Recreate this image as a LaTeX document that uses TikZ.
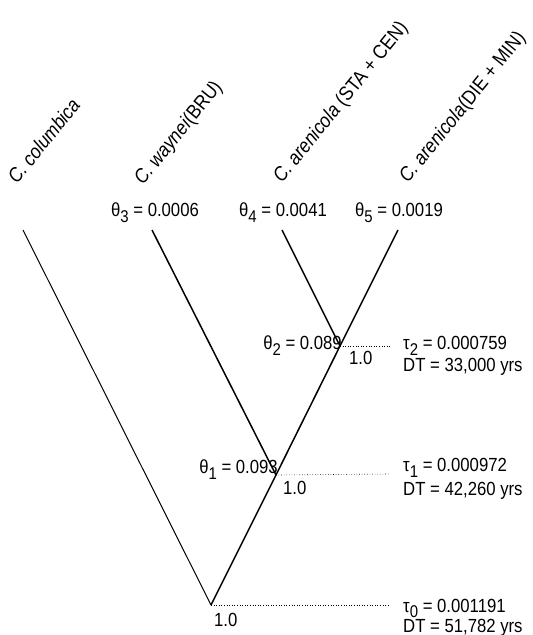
\documentclass[tikz,border=0pt]{standalone}
\usepackage{fontspec}
\setmainfont{Liberation Sans}[FakeStretch=0.88]
\newcommand\lsub[1]{\raisebox{-0.3em}{\fontsize{17}{18}\selectfont #1}}
\begin{document}
\begin{tikzpicture}[x=1pt,y=-1pt,
  txt/.style={inner sep=0pt,font=\fontsize{19}{22}\selectfont},
  leaflab/.style={inner sep=0pt,font=\fontsize{20}{22}\selectfont,rotate=51,anchor=base west},
  branch/.style={line width=1.5pt},
  thinbranch/.style={line width=1pt},
  guide/.style={line width=0.6pt,dotted}]
\useasboundingbox (0,0) rectangle (533,635);
% tips and internal nodes
\coordinate (tc) at (23,230);
\coordinate (tw) at (152,230);
\coordinate (ta) at (282,230);
\coordinate (tb) at (398,230);
\coordinate (n2) at (340,346);
\coordinate (n1) at (276,475);
\coordinate (r)  at (211,605);
\coordinate (d2) at (390,346);
\coordinate (d1) at (390,474);
\coordinate (d0) at (390,605);
% branches
\draw[thinbranch] (tc) -- (r);
\draw[branch] (tw) -- (n1);
\draw[branch] (ta) -- (n2);
\draw[branch] (tb) -- (n2) -- (n1) -- (r);
% dotted guides
\draw[guide] (n2) -- (d2);
\draw[guide] (n1) -- (d1);
\draw[guide] (r) -- (d0);
% leaf labels
\node[leaflab] (lc) at (17,185) {\textit{C. columbica}};
\node[leaflab] (lw) at (143,186) {\textit{C. waynei}(BRU)};
\node[leaflab] (la) at (282,184) {\textit{C. arenicola} (STA + CEN)};
\node[leaflab] (lb) at (408,184) {\textit{C. arenicola}(DIE + MIN)};
% theta at tips
\node[txt,anchor=base] (t3) at (155,216.5) {θ\lsub{3} = 0.0006};
\node[txt,anchor=base] (t4) at (283,216.5) {θ\lsub{4} = 0.0041};
\node[txt,anchor=base] (t5) at (399,216.5) {θ\lsub{5} = 0.0019};
% theta at internal nodes
\node[txt,anchor=base east] (t2) at (342,349.5) {θ\lsub{2} = 0.089};
\node[txt,anchor=base east] (t1) at (278,473.5) {θ\lsub{1} = 0.093};
% support values
\node[txt,anchor=base west] (s2) at (349,364) {1.0};
\node[txt,anchor=base west] (s1) at (283,494.5) {1.0};
\node[txt,anchor=base west] (s0) at (214,626.5) {1.0};
% tau / DT
\node[txt,anchor=base west] (u2) at (403,349.5) {τ\lsub{2} = 0.000759};
\node[txt,anchor=base west] (v2) at (403,371.5) {DT = 33,000 yrs};
\node[txt,anchor=base west] (u1) at (403,471.5) {τ\lsub{1} = 0.000972};
\node[txt,anchor=base west] (v1) at (403,495.5) {DT = 42,260 yrs};
\node[txt,anchor=base west] (u0) at (403,612) {τ\lsub{0} = 0.001191};
\node[txt,anchor=base west] (v0) at (403,632) {DT = 51,782 yrs};
\end{tikzpicture}
\end{document}
